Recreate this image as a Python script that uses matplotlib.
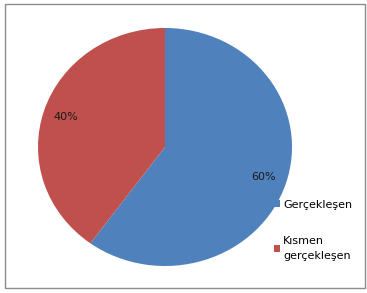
import matplotlib.pyplot as plt
from matplotlib.patches import Rectangle

categories = ['Gerçekleşen', 'Kısmen\ngerçekleşen']
shares = [60, 40]
colors = ['#4F81BD', '#C0504D']

plt.rcParams['font.family'] = ['DejaVu Sans']

W, H = 367, 293
fig = plt.figure(figsize=(W / 100, H / 100), dpi=100)

# chart border
fig.patches.append(Rectangle((5 / W, 5 / H), 360 / W, 284 / H, transform=fig.transFigure,
                             fill=False, edgecolor='#8c8c8c', linewidth=1))

ax = fig.add_axes([38 / W, (H - 266) / H, 254 / W, 238 / H])
wedges, texts, autotexts = ax.pie(shares, colors=colors, startangle=90, counterclock=False,
                                  autopct='%d%%', pctdistance=0.82,
                                  textprops={'fontsize': 8, 'color': '#1a1a1a'})
ax.set_aspect('auto')
ax.set_xlim(-1, 1)
ax.set_ylim(-1, 1)

leg = fig.legend(wedges, categories, loc='upper left', bbox_to_anchor=(268 / W, 1 - 194 / H),
                 frameon=False, fontsize=8, handlelength=0.6, handleheight=0.6,
                 handletextpad=0.25, labelspacing=2.4, borderpad=0)
for t in leg.get_texts():
    t.set_linespacing(1.6)

fig.savefig('out.png', dpi=100)
